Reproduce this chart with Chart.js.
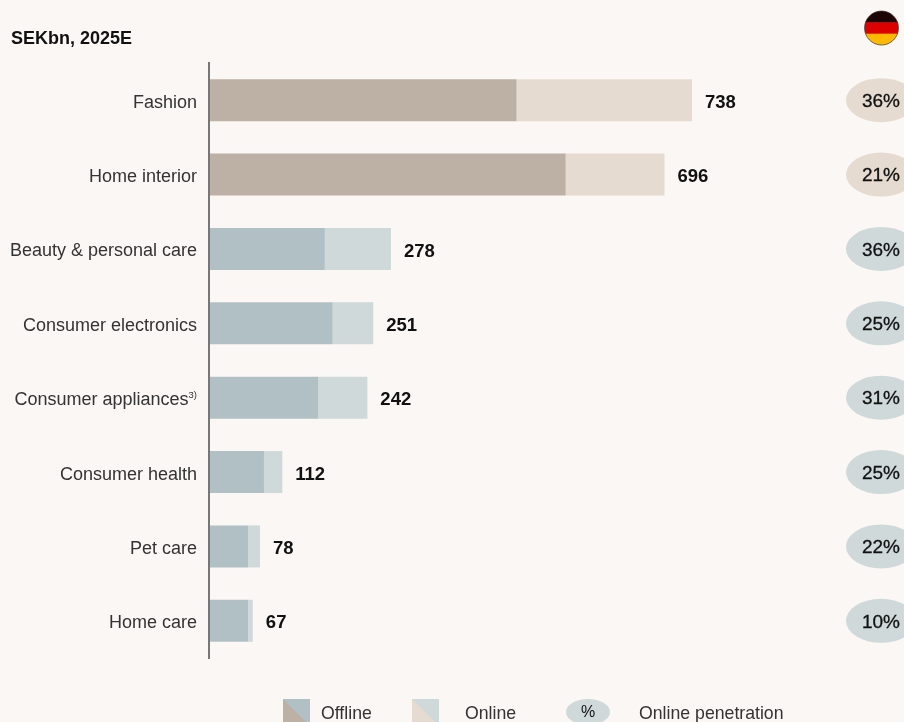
<!DOCTYPE html>
<html>
<head>
<meta charset="utf-8">
<title>SEKbn, 2025E</title>
<script src="https://cdn.jsdelivr.net/npm/chart.js@4"></script>
<style>
  html, body { margin: 0; padding: 0; background: #fbf7f4; }
  canvas { display: block; }
</style>
</head>
<body>
<canvas id="marketChart" width="904" height="722"></canvas>
<script>
const categories = ['Fashion', 'Home interior', 'Beauty & personal care', 'Consumer electronics', 'Consumer appliances', 'Consumer health', 'Pet care', 'Home care'];
const offline = [470, 545, 177, 189, 167, 84, 60, 60];
const online = [268, 151, 101, 62, 75, 28, 18, 7];
const totals = [738, 696, 278, 251, 242, 112, 78, 67];
const penetration = ['36%', '21%', '36%', '25%', '31%', '25%', '22%', '10%'];
const footnotes = { 'Consumer appliances': '3)' };
const unitLabel = 'SEKbn, 2025E';

const FONT = '"Liberation Sans", Arial, sans-serif';
const BG = '#fbf7f4';
const BEIGE_DARK = '#bdb0a4';
const BEIGE_LIGHT = '#e6dbd0';
const BLUE_DARK = '#b0c0c4';
const BLUE_LIGHT = '#cfd9da';

// the two largest categories are set apart in beige
const isBeige = (i) => i < 2;

const text = (ctx, str, x, y, font, color, align = 'left') => {
  ctx.font = font;
  ctx.fillStyle = color;
  ctx.textAlign = align;
  ctx.textBaseline = 'middle';
  ctx.fillText(str, x, y);
};

const legendSwatch = (ctx, x, y, size, topRight, bottomLeft) => {
  ctx.fillStyle = topRight;
  ctx.fillRect(x, y, size, size);
  ctx.fillStyle = bottomLeft;
  ctx.beginPath();
  ctx.moveTo(x, y);
  ctx.lineTo(x + size, y + size);
  ctx.lineTo(x, y + size);
  ctx.closePath();
  ctx.fill();
};

const drawFlag = (ctx, cx, cy, r) => {
  ctx.save();
  ctx.beginPath();
  ctx.arc(cx, cy, r, 0, Math.PI * 2);
  ctx.clip();
  const h = (r * 2) / 3;
  ['#1d0505', '#dd0000', '#ffb900'].forEach((c, i) => {
    ctx.fillStyle = c;
    ctx.fillRect(cx - r, cy - r + i * h, r * 2, h + 0.5);
  });
  ctx.restore();
  ctx.beginPath();
  ctx.arc(cx, cy, r, 0, Math.PI * 2);
  ctx.strokeStyle = '#3a3030';
  ctx.lineWidth = 0.7;
  ctx.stroke();
};

const annotations = {
  id: 'annotations',
  afterDatasetsDraw(chart) {
    const { ctx, scales: { x, y } } = chart;
    ctx.save();

    categories.forEach((name, i) => {
      const py = y.getPixelForValue(i);

      // category label, with an optional footnote marker after it
      const note = footnotes[name];
      let right = 197;
      if (note) {
        ctx.font = '9.5px ' + FONT;
        right -= ctx.measureText(note).width;
        text(ctx, note, right, py - 2, '9.5px ' + FONT, '#333333');
      }
      text(ctx, name, right, py + 2.5, '18px ' + FONT, '#333333', 'right');

      text(ctx, String(totals[i]), x.getPixelForValue(totals[i]) + 13, py + 2.5, 'bold 18.5px ' + FONT, '#111111');

      // online penetration pill, runs off the right edge
      ctx.fillStyle = isBeige(i) ? BEIGE_LIGHT : BLUE_LIGHT;
      ctx.beginPath();
      ctx.ellipse(881, py, 35, 22, 0, 0, Math.PI * 2);
      ctx.fill();
      text(ctx, penetration[i], 881, py + 1.5, '19px ' + FONT, '#111111', 'center');
      ctx.strokeStyle = '#111111';
      ctx.lineWidth = 0.3;
      ctx.strokeText(penetration[i], 881, py + 1.5);
    });

    text(ctx, unitLabel, 11, 39, 'bold 18px ' + FONT, '#111111');
    drawFlag(ctx, 881.5, 28, 17);

    legendSwatch(ctx, 283, 699, 27, BLUE_DARK, BEIGE_DARK);
    text(ctx, 'Offline', 321, 714, '17.7px ' + FONT, '#333333');
    legendSwatch(ctx, 412, 699, 27, BLUE_LIGHT, BEIGE_LIGHT);
    text(ctx, 'Online', 465, 714, '17.7px ' + FONT, '#333333');
    ctx.fillStyle = BLUE_LIGHT;
    ctx.beginPath();
    ctx.ellipse(588, 712, 22, 13, 0, 0, Math.PI * 2);
    ctx.fill();
    text(ctx, '%', 588, 713, '16px ' + FONT, '#111111', 'center');
    text(ctx, 'Online penetration', 639, 714, '17.7px ' + FONT, '#333333');

    ctx.restore();
  },
};

new Chart(document.getElementById('marketChart'), {
  type: 'bar',
  data: {
    labels: categories,
    datasets: [
      {
        label: 'Offline',
        data: offline,
        backgroundColor: categories.map((c, i) => (isBeige(i) ? BEIGE_DARK : BLUE_DARK)),
      },
      {
        label: 'Online',
        data: online,
        backgroundColor: categories.map((c, i) => (isBeige(i) ? BEIGE_LIGHT : BLUE_LIGHT)),
      },
    ],
  },
  options: {
    indexAxis: 'y',
    responsive: false,
    animation: false,
    layout: { padding: { left: 209, right: 0, top: 63, bottom: 64 } },
    categoryPercentage: 1,
    barPercentage: 0.565,
    scales: {
      x: { stacked: true, display: false, min: 0, max: 1062 },
      y: {
        stacked: true,
        grid: { display: false, drawTicks: false },
        border: { color: '#777777', width: 2, z: 1 },
        ticks: { display: false, padding: 0 },
      },
    },
    plugins: {
      legend: { display: false },
      tooltip: { enabled: false },
    },
  },
  plugins: [
    annotations,
    {
      id: 'pageBackground',
      beforeDraw(chart) {
        chart.ctx.fillStyle = BG;
        chart.ctx.fillRect(0, 0, chart.width, chart.height);
      },
    },
  ],
});
</script>
</body>
</html>
